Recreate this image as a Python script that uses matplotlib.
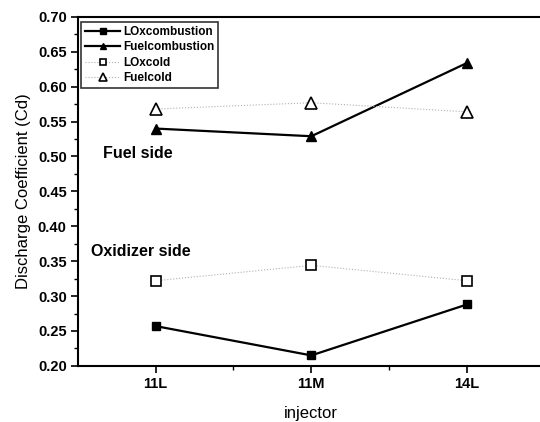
import matplotlib
matplotlib.use("Agg")
import matplotlib.pyplot as plt
from matplotlib.ticker import MultipleLocator, FixedLocator, FormatStrFormatter

plt.rcParams["font.family"] = ["Liberation Sans", "DejaVu Sans"]

injectors = ["11L", "11M", "14L"]
lox_combustion = [0.257, 0.215, 0.288]
fuel_combustion = [0.540, 0.529, 0.634]
lox_cold = [0.322, 0.344, 0.322]
fuel_cold = [0.568, 0.577, 0.564]

xs = list(range(1, len(injectors) + 1))

fig = plt.figure(figsize=(5.4, 4.22), dpi=100)
ax = fig.add_axes([0.144, 0.133, 0.865, 0.827])

ax.plot(xs, lox_combustion, color="black", lw=1.6, marker="s", ms=6,
        label="LOxcombustion")
ax.plot(xs, fuel_combustion, color="black", lw=1.6, marker="^", ms=7,
        label="Fuelcombustion")
ax.plot(xs, lox_cold, color="#b0b0b0", lw=0.8, ls=":", marker="s", ms=7,
        mfc="white", mec="black", mew=1.2, label="LOxcold")
ax.plot(xs, fuel_cold, color="#b0b0b0", lw=0.8, ls=":", marker="^", ms=8,
        mfc="white", mec="black", mew=1.2, label="Fuelcold")

ax.text(0.665, 0.504, "Fuel side", fontsize=11.5, fontweight="bold",
        va="center", ha="left")
ax.text(0.587, 0.364, "Oxidizer side", fontsize=11.5, fontweight="bold",
        va="center", ha="left")

ax.set_xlim(0.5, 3.5)
ax.set_ylim(0.20, 0.70)
ax.set_xticks(xs)
ax.set_xticklabels(injectors)
ax.xaxis.set_minor_locator(FixedLocator([1.5, 2.5]))
ax.yaxis.set_major_locator(MultipleLocator(0.05))
ax.yaxis.set_minor_locator(MultipleLocator(0.025))
ax.yaxis.set_major_formatter(FormatStrFormatter("%.2f"))

ax.tick_params(axis="both", which="major", direction="out", length=5,
               width=1.2, labelsize=10.5, pad=3)
ax.tick_params(axis="both", which="minor", direction="out", length=3,
               width=1.0)
for lbl in ax.get_xticklabels() + ax.get_yticklabels():
    lbl.set_fontweight("bold")

for side in ["left", "bottom", "top"]:
    ax.spines[side].set_linewidth(1.5)
ax.spines["right"].set_visible(False)

ax.set_ylabel("Discharge Coefficient (Cd)", fontsize=12, labelpad=5)
ax.set_xlabel("injector", fontsize=12, labelpad=11)

leg = ax.legend(loc="upper left", bbox_to_anchor=(0.008, 0.985), fontsize=8.5,
                frameon=True, fancybox=False, edgecolor="black",
                handlelength=3.0, handletextpad=0.2, borderpad=0.3,
                labelspacing=0.3, borderaxespad=0.0, markerscale=0.65)
leg.get_frame().set_linewidth(1.2)
for t in leg.get_texts():
    t.set_fontweight("bold")

fig.savefig("out.png", dpi=100)
